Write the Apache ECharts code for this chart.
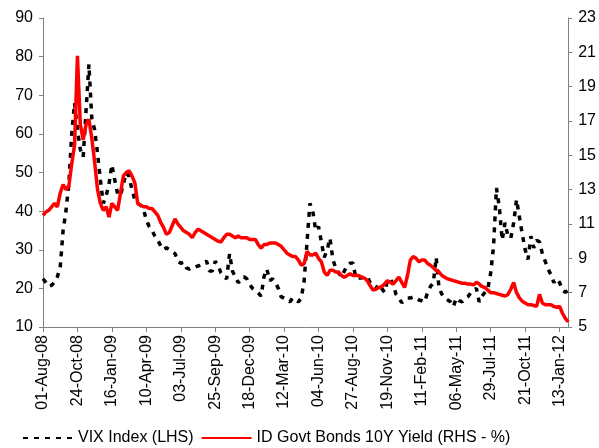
<!DOCTYPE html>
<html>
<head>
<meta charset="utf-8">
<script src="https://cdn.jsdelivr.net/npm/echarts@6/dist/echarts.min.js"></script>
<style>
  html, body { margin: 0; padding: 0; background: #fff; }
  #chart { width: 599px; height: 448px; }
</style>
</head>
<body>
<div id="chart"></div>
<script>
// weekly observations (Fridays), first week = 01-Aug-08
const startDate = Date.UTC(2008, 7, 1);
const weeks = 184;

// VIX Index (left axis)
const vixValues = [
  22.5, 21.5, 20.5, 20.8, 21.6, 23.0, 25.5, 35.0, 40.0, 47.0,
  60.0, 68.0, 61.0, 56.0, 54.0, 66.0, 78.0, 64.0, 61.0, 55.0,
  48.0, 42.0, 44.0, 47.0, 52.0, 48.0, 44.5, 44.0, 47.0, 50.0,
  49.0, 45.5, 43.0, 42.0, 41.5, 40.5, 37.7, 36.0, 35.0, 33.5,
  32.5, 31.0, 30.0, 30.5, 30.0, 29.5, 29.0, 27.0, 26.5, 26.8,
  25.3, 25.0, 25.5, 25.5, 25.8, 26.0, 26.8, 27.0, 24.5, 24.5,
  27.0, 26.0, 24.0, 23.0, 22.5, 29.0, 24.5, 23.0, 21.5, 22.0,
  23.0, 22.5, 21.0, 20.0, 19.5, 18.8, 18.0, 23.0, 25.0, 22.0,
  22.5, 21.5, 20.0, 17.8, 17.5, 17.0, 16.5, 17.5, 17.0, 16.5,
  17.5, 22.0, 32.0, 42.0, 40.0, 35.0, 36.0, 32.0, 28.0, 30.0,
  33.0, 27.5, 25.3, 24.0, 23.0, 24.5, 26.0, 26.5, 26.6, 22.7,
  22.7, 22.7, 23.0, 23.0, 21.5, 20.5, 20.0, 21.0, 20.0, 19.0,
  22.0, 22.5, 21.0, 18.5, 17.5, 16.3, 16.8, 17.5, 17.5, 17.8,
  17.5, 17.0, 16.8, 16.5, 19.0, 20.5, 21.4, 28.0, 20.0, 18.5,
  17.5, 17.0, 16.5, 15.3, 17.5, 16.8, 16.5, 17.3, 17.8, 18.8,
  19.5, 20.0, 16.5, 18.0, 19.0, 20.0, 24.0, 31.0, 46.0, 41.0,
  32.5, 37.0, 33.5, 33.0, 37.0, 43.0, 38.5, 34.0, 30.0, 27.5,
  33.5, 30.5, 32.5, 32.0, 29.0, 27.0, 25.0, 23.5, 21.5, 22.5,
  21.5, 19.5, 19.0, 19.5
];

// ID Govt Bonds 10Y yield, % (right axis)
const yieldValues = [
  11.5, 11.7, 11.8, 12.0, 12.2, 12.0, 12.8, 13.3, 13.0, 13.2,
  14.5, 15.6, 20.8, 16.8, 15.9, 16.8, 17.1, 16.0, 14.6, 13.0,
  12.2, 11.8, 12.0, 11.4, 12.2, 12.0, 11.8, 12.8, 13.8, 14.0,
  14.1, 13.8, 13.4, 12.2, 12.1, 12.0, 12.0, 11.9, 11.9, 11.7,
  11.5, 11.1, 10.8, 10.4, 10.5, 10.9, 11.3, 11.0, 10.8, 10.6,
  10.5, 10.4, 10.2, 10.5, 10.7, 10.6, 10.5, 10.4, 10.3, 10.2,
  10.1, 10.0, 9.95, 10.2, 10.4, 10.4, 10.3, 10.2, 10.3, 10.2,
  10.2, 10.2, 10.1, 10.1, 10.1, 9.8, 9.6, 9.8, 9.8, 9.9,
  9.9, 9.9, 9.8, 9.7, 9.5, 9.3, 9.2, 9.1, 9.1, 8.9,
  8.6, 8.7, 9.4, 9.2, 9.2, 9.3, 9.0, 8.8, 8.2, 8.0,
  8.3, 8.3, 8.2, 8.2, 8.0, 7.9, 8.0, 8.1, 8.0, 8.0,
  8.0, 7.9, 7.85, 7.7, 7.4, 7.15, 7.2, 7.3, 7.35, 7.5,
  7.7, 7.6, 7.5, 7.7, 7.9, 7.6, 7.3, 8.0, 8.9, 9.1,
  9.0, 8.8, 8.9, 8.9, 8.7, 8.6, 8.45, 8.3, 8.2, 8.0,
  7.9, 7.8, 7.75, 7.7, 7.65, 7.6, 7.55, 7.55, 7.5, 7.5,
  7.45, 7.6, 7.5, 7.35, 7.3, 7.15, 7.0, 7.0, 6.95, 6.9,
  6.85, 6.8, 6.9, 7.2, 7.6, 7.0, 6.7, 6.5, 6.4, 6.3,
  6.3, 6.25, 6.2, 6.9, 6.4, 6.3, 6.3, 6.3, 6.2, 6.15,
  6.2, 5.8, 5.5, 5.3
];

const monthNames = ['Jan','Feb','Mar','Apr','May','Jun','Jul','Aug','Sep','Oct','Nov','Dec'];
function fmtDate(ms) {
  const d = new Date(ms);
  const dd = String(d.getUTCDate()).padStart(2, '0');
  const yy = String(d.getUTCFullYear() % 100).padStart(2, '0');
  return dd + '-' + monthNames[d.getUTCMonth()] + '-' + yy;
}
const categories = [];
for (let i = 0; i < weeks; i++) {
  categories.push(fmtDate(startDate + i * 7 * 86400000));
}

const font = 'Liberation Sans, Arial, sans-serif';
const axisGrey = '#808080';

const option = {
  animation: false,
  backgroundColor: '#fff',
  textStyle: { fontFamily: font },
  grid: { left: 43, right: 27, top: 18, bottom: 121 },
  legend: {
    left: 22,
    bottom: 2,
    padding: 0,
    itemWidth: 50,
    itemHeight: 4,
    itemGap: 7,
    itemStyle: { opacity: 0 },
    textStyle: { fontSize: 16, color: '#000', fontFamily: font },
    data: ['VIX Index (LHS)', 'ID Govt Bonds 10Y Yield (RHS - %)']
  },
  xAxis: {
    type: 'category',
    data: categories,
    boundaryGap: false,
    axisLine: { lineStyle: { color: axisGrey } },
    axisTick: { interval: 11, length: 5, lineStyle: { color: axisGrey } },
    axisLabel: {
      interval: 11,
      rotate: 90,
      margin: 8,
      fontSize: 16,
      color: '#000',
      fontFamily: font
    },
    splitLine: { show: false }
  },
  yAxis: [
    {
      type: 'value',
      min: 10,
      max: 90,
      interval: 10,
      axisLine: { show: true, lineStyle: { color: axisGrey } },
      axisTick: { show: true, length: 4, lineStyle: { color: axisGrey } },
      axisLabel: { fontSize: 16, color: '#000', margin: 10, fontFamily: font },
      splitLine: { show: false }
    },
    {
      type: 'value',
      min: 5,
      max: 23,
      interval: 2,
      position: 'right',
      axisLine: { show: true, lineStyle: { color: axisGrey } },
      axisTick: { show: true, length: 4, lineStyle: { color: axisGrey } },
      axisLabel: { fontSize: 16, color: '#000', margin: 10, fontFamily: font },
      splitLine: { show: false }
    }
  ],
  series: [
    {
      name: 'VIX Index (LHS)',
      type: 'line',
      yAxisIndex: 0,
      data: vixValues,
      showSymbol: false,
      symbol: 'none',
      lineStyle: { color: '#000', width: 3.5, type: [5, 6], cap: 'butt' },
      itemStyle: { color: '#000' },
      z: 2
    },
    {
      name: 'ID Govt Bonds 10Y Yield (RHS - %)',
      type: 'line',
      yAxisIndex: 1,
      data: yieldValues,
      showSymbol: false,
      symbol: 'none',
      lineStyle: { color: '#ff0000', width: 3.5 },
      itemStyle: { color: '#ff0000' },
      z: 3
    }
  ]
};

const chart = echarts.init(document.getElementById('chart'));
chart.setOption(option);
</script>
</body>
</html>
